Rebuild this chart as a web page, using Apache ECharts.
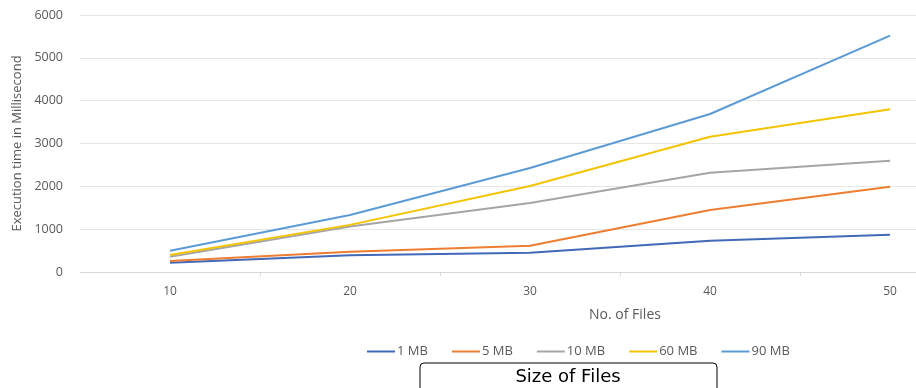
<!DOCTYPE html>
<html><head><meta charset="utf-8">
<script src="https://cdn.jsdelivr.net/npm/echarts@6/dist/echarts.min.js"></script>
<style>html,body{margin:0;padding:0;background:#fff}#c{width:916px;height:388px}</style>
</head><body><div id="c"></div>
<script>
var categories = [10, 20, 30, 40, 50];
var seriesNames = ['1 MB','5 MB','10 MB','60 MB','90 MB'];
var mb1  = [217, 390, 451, 731, 871];
var mb5  = [257, 475, 614, 1448, 1992];
var mb10 = [357, 1060, 1611, 2319, 2599];
var mb60 = [397, 1100, 2008, 3159, 3798];
var mb90 = [498, 1331, 2428, 3689, 5517];
var yTicks = [0, 1000, 2000, 3000, 4000, 5000, 6000];
var xTickMarks = [15, 25, 35, 45];
var colors = ['#4169b8','#ed7d31','#a5a5a5','#f5c400','#5b9bd5'];
var values = [mb1, mb5, mb10, mb60, mb90];

var chart = echarts.init(document.getElementById('c'));
var font = 'Open Sans';
chart.setOption({
  animation: false,
  color: colors,
  textStyle: {fontFamily: font},
  title: {
    text: 'No. of Files', left: 620, top: 303, textAlign: 'center',
    textStyle: {fontSize: 14, fontWeight: 'normal', color: '#595959', fontFamily: font}
  },
  legend: {
    data: seriesNames, top: 345, left: 367, padding: 0, itemWidth: 28, itemHeight: 2, itemGap: 24,
    icon: 'rect',
    textStyle: {fontSize: 13, color: '#595959', fontFamily: font, padding: [0,0,0,-3]}
  },
  grid: {left: 80, top: 15, right: 0, height: 257},
  xAxis: {
    type: 'value', min: 5, max: 51.44,
    splitLine: {show: false},
    axisLine: {lineStyle: {color: '#d9d9d9'}},
    axisTick: {show: true, length: 4, customValues: xTickMarks, lineStyle: {color: '#d9d9d9'}},
    axisLabel: {fontSize: 12, color: '#595959', margin: 14, fontFamily: font, customValues: categories}
  },
  yAxis: {
    type: 'value', min: 0, max: 6000, interval: 1000,
    name: 'Execution time in Millisecond', nameLocation: 'middle', nameGap: 56, nameRotate: 90,
    nameTextStyle: {fontSize: 13, color: '#595959', fontFamily: font},
    axisLabel: {fontSize: 12.5, color: '#595959', margin: 17, fontFamily: font,
      formatter: function(v){ return yTicks.indexOf(v) >= 0 ? String(v) : ''; }},
    splitLine: {lineStyle: {color: '#e6e6e6'}},
    axisLine: {show: false}, axisTick: {show: false}
  },
  series: seriesNames.map(function(n, i){
    return {name: n, type: 'line', symbol: 'none',
      data: categories.map(function(c, j){ return [c, values[i][j]]; }),
      lineStyle: {width: 2, color: colors[i]}};
  }),
  graphic: [
    {type: 'rect', shape: {x: 420, y: 363, width: 297, height: 30, r: 4},
     style: {fill: '#fff', stroke: '#000', lineWidth: 1}},
    {type: 'text', x: 568, y: 377, style: {text: 'Size of Files', fill: '#000', fontSize: 18,
     fontFamily: 'DejaVu Sans', align: 'center', verticalAlign: 'middle'}}
  ]
});
</script></body></html>
